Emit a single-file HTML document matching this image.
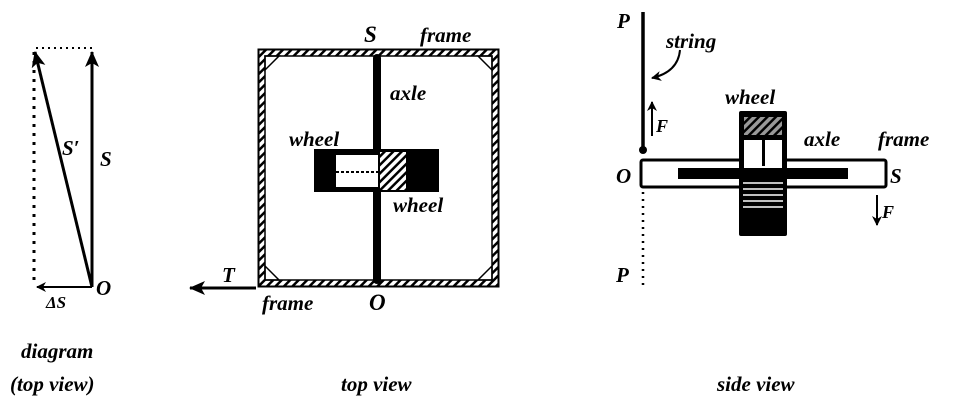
<!DOCTYPE html>
<html><head><style>
body{margin:0;background:#fff}
svg text{font-family:"Liberation Serif",serif;font-weight:bold;font-style:italic;fill:#000}
</style></head><body>
<svg width="960" height="414" viewBox="0 0 960 414">
<defs>
<pattern id="h" width="6" height="6" patternUnits="userSpaceOnUse" patternTransform="rotate(45)">
<rect width="6" height="6" fill="#fff"/><rect width="2.5" height="6" fill="#000"/></pattern>
<marker id="a" markerWidth="10" markerHeight="10" refX="9" refY="5" orient="auto" markerUnits="userSpaceOnUse"><path d="M0,0 L10,5 L0,10 L3,5z" fill="#000"/></marker>
<marker id="b" markerWidth="16" markerHeight="14" refX="15" refY="7" orient="auto" markerUnits="userSpaceOnUse"><path d="M0,0 L16,7 L0,14 L4,7z" fill="#000"/></marker>
</defs>
<!-- left diagram -->
<line x1="36" y1="48" x2="92" y2="48" stroke="#000" stroke-width="2" stroke-dasharray="2,4"/>
<line x1="34" y1="52" x2="34" y2="286" stroke="#000" stroke-width="3" stroke-dasharray="3,6"/>
<line x1="92" y1="287" x2="92" y2="52" stroke="#000" stroke-width="3" marker-end="url(#b)"/>
<line x1="92" y1="287" x2="35" y2="52" stroke="#000" stroke-width="3" marker-end="url(#b)"/>
<line x1="92" y1="287" x2="37" y2="287" stroke="#000" stroke-width="2" marker-end="url(#a)"/>
<text x="62" y="155" font-size="21">S′</text>
<text x="100" y="166" font-size="21">S</text>
<text x="96" y="295" font-size="21">O</text>
<text x="46" y="308" font-size="17">ΔS</text>
<text x="21" y="358" font-size="21">diagram</text>
<text x="10" y="391" font-size="21">(top view)</text>
<!-- top view -->
<rect x="259" y="50" width="239" height="236" fill="none" stroke="#000" stroke-width="3"/>
<rect x="262" y="53" width="233" height="230" fill="none" stroke="url(#h)" stroke-width="5"/>
<rect x="265" y="56" width="227" height="224" fill="none" stroke="#000" stroke-width="1.5"/>
<path d="M265,56 l14,0 l-14,14z M492,56 l-14,0 l14,14z M265,280 l14,0 l-14,-14z M492,280 l-14,0 l14,-14z" fill="none" stroke="#000" stroke-width="1.5"/>
<rect x="373" y="54" width="8" height="230" rx="4" fill="#000"/>
<rect x="314" y="149" width="125" height="43" fill="#000"/>
<rect x="336" y="155" width="42" height="32" fill="#fff"/>
<rect x="380" y="152" width="26" height="38" fill="url(#h)"/>
<line x1="336" y1="172" x2="378" y2="172" stroke="#000" stroke-width="2" stroke-dasharray="3,2"/>
<text x="364" y="42" font-size="23">S</text>
<text x="420" y="42" font-size="21">frame</text>
<text x="390" y="100" font-size="21">axle</text>
<text x="289" y="146" font-size="21">wheel</text>
<text x="393" y="212" font-size="21">wheel</text>
<text x="262" y="310" font-size="21">frame</text>
<text x="369" y="310" font-size="23">O</text>
<line x1="256" y1="288" x2="190" y2="288" stroke="#000" stroke-width="3" marker-end="url(#b)"/>
<text x="222" y="282" font-size="21">T</text>
<text x="341" y="391" font-size="21">top view</text>
<!-- side view -->
<line x1="643" y1="12" x2="643" y2="150" stroke="#000" stroke-width="3.5"/>
<circle cx="643" cy="150" r="4" fill="#000"/>
<line x1="643" y1="192" x2="643" y2="290" stroke="#000" stroke-width="2.5" stroke-dasharray="2,5"/>
<rect x="641" y="160" width="245" height="27" rx="2" fill="#fff" stroke="#000" stroke-width="3"/>
<rect x="678" y="168" width="170" height="11" fill="#000"/>
<rect x="739" y="111" width="48" height="125" rx="2" fill="#000"/>
<rect x="744" y="117" width="38" height="18" fill="url(#h)" opacity="0.6"/>
<rect x="744" y="140" width="38" height="28" fill="#fff"/>
<rect x="762" y="140" width="3" height="26" fill="#000"/>
<g stroke="#fff" stroke-width="1.5"><line x1="743" y1="183" x2="783" y2="183"/><line x1="743" y1="189" x2="783" y2="189"/><line x1="743" y1="195" x2="783" y2="195"/><line x1="743" y1="201" x2="783" y2="201"/><line x1="743" y1="207" x2="783" y2="207"/></g>
<path d="M680,50 Q678,72 652,78" fill="none" stroke="#000" stroke-width="2" marker-end="url(#a)"/>
<text x="617" y="28" font-size="21">P</text>
<text x="666" y="48" font-size="21">string</text>
<text x="725" y="104" font-size="21">wheel</text>
<text x="804" y="146" font-size="21">axle</text>
<text x="878" y="146" font-size="21">frame</text>
<text x="616" y="183" font-size="21">O</text>
<text x="890" y="183" font-size="21">S</text>
<line x1="652" y1="136" x2="652" y2="102" stroke="#000" stroke-width="2" marker-end="url(#a)"/>
<text x="656" y="132" font-size="18">F</text>
<line x1="877" y1="195" x2="877" y2="225" stroke="#000" stroke-width="2" marker-end="url(#a)"/>
<text x="882" y="218" font-size="18">F</text>
<text x="616" y="282" font-size="21">P</text>
<text x="717" y="391" font-size="21">side view</text>
</svg>
</body></html>
